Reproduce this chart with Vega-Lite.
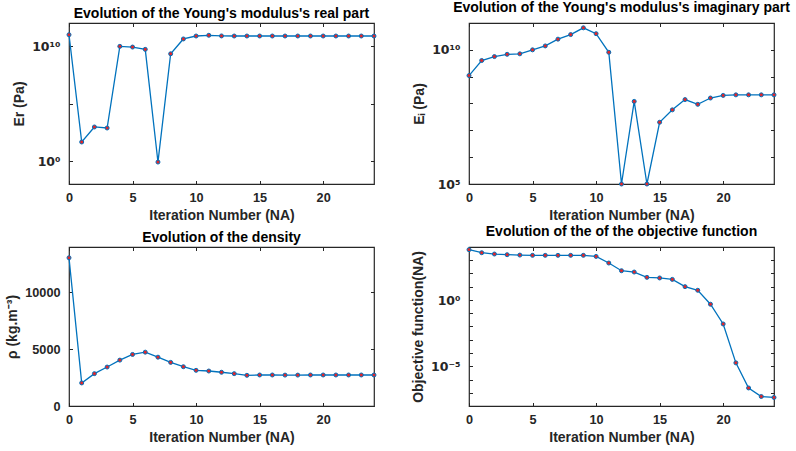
{
  "$schema": "https://vega.github.io/schema/vega-lite/v6.json",
  "background": "white",
  "padding": {"left": 5, "top": 0, "right": 0, "bottom": 0},
  "datasets": {
    "er": [
      {"iter": 0, "v": 9.5e10}, {"iter": 1, "v": 45}, {"iter": 2, "v": 910}, {"iter": 3, "v": 740},
      {"iter": 4, "v": 9.3e9}, {"iter": 5, "v": 8.1e9}, {"iter": 6, "v": 5.1e9}, {"iter": 7, "v": 0.81},
      {"iter": 8, "v": 2.1e9}, {"iter": 9, "v": 4.1e10}, {"iter": 10, "v": 7.4e10}, {"iter": 11, "v": 8.5e10},
      {"iter": 12, "v": 7.5e10}, {"iter": 13, "v": 7.4e10}, {"iter": 14, "v": 7.4e10}, {"iter": 15, "v": 7.4e10},
      {"iter": 16, "v": 7.4e10}, {"iter": 17, "v": 7.4e10}, {"iter": 18, "v": 7.4e10}, {"iter": 19, "v": 7.4e10},
      {"iter": 20, "v": 7.4e10}, {"iter": 21, "v": 7.4e10}, {"iter": 22, "v": 7.4e10}, {"iter": 23, "v": 7.4e10},
      {"iter": 24, "v": 7.4e10}
    ],
    "ei": [
      {"iter": 0, "v": 1.1e9}, {"iter": 1, "v": 4.0e9}, {"iter": 2, "v": 5.6e9}, {"iter": 3, "v": 6.8e9},
      {"iter": 4, "v": 7.1e9}, {"iter": 5, "v": 1.0e10}, {"iter": 6, "v": 1.4e10}, {"iter": 7, "v": 2.5e10},
      {"iter": 8, "v": 3.7e10}, {"iter": 9, "v": 6.6e10}, {"iter": 10, "v": 4.0e10}, {"iter": 11, "v": 8.1e9},
      {"iter": 12, "v": 1e5}, {"iter": 13, "v": 1.2e8}, {"iter": 14, "v": 1e5}, {"iter": 15, "v": 2.0e7},
      {"iter": 16, "v": 5.8e7}, {"iter": 17, "v": 1.4e8}, {"iter": 18, "v": 9.3e7}, {"iter": 19, "v": 1.6e8},
      {"iter": 20, "v": 2.0e8}, {"iter": 21, "v": 2.1e8}, {"iter": 22, "v": 2.1e8}, {"iter": 23, "v": 2.1e8},
      {"iter": 24, "v": 2.1e8}
    ],
    "rho": [
      {"iter": 0, "v": 13050}, {"iter": 1, "v": 2030}, {"iter": 2, "v": 2850}, {"iter": 3, "v": 3430},
      {"iter": 4, "v": 4040}, {"iter": 5, "v": 4540}, {"iter": 6, "v": 4740}, {"iter": 7, "v": 4300},
      {"iter": 8, "v": 3840}, {"iter": 9, "v": 3460}, {"iter": 10, "v": 3140}, {"iter": 11, "v": 3080},
      {"iter": 12, "v": 2970}, {"iter": 13, "v": 2850}, {"iter": 14, "v": 2700}, {"iter": 15, "v": 2730},
      {"iter": 16, "v": 2730}, {"iter": 17, "v": 2720}, {"iter": 18, "v": 2720}, {"iter": 19, "v": 2730},
      {"iter": 20, "v": 2730}, {"iter": 21, "v": 2730}, {"iter": 22, "v": 2730}, {"iter": 23, "v": 2730},
      {"iter": 24, "v": 2730}
    ],
    "obj": [
      {"iter": 0, "v": 6300}, {"iter": 1, "v": 3700}, {"iter": 2, "v": 2950}, {"iter": 3, "v": 2630},
      {"iter": 4, "v": 2450}, {"iter": 5, "v": 2340}, {"iter": 6, "v": 2340}, {"iter": 7, "v": 2340},
      {"iter": 8, "v": 2340}, {"iter": 9, "v": 2340}, {"iter": 10, "v": 1950}, {"iter": 11, "v": 617},
      {"iter": 12, "v": 162}, {"iter": 13, "v": 129}, {"iter": 14, "v": 51}, {"iter": 15, "v": 46},
      {"iter": 16, "v": 36}, {"iter": 17, "v": 10.2}, {"iter": 18, "v": 5.4}, {"iter": 19, "v": 0.48},
      {"iter": 20, "v": 0.0155}, {"iter": 21, "v": 1.8e-5}, {"iter": 22, "v": 2.3e-7}, {"iter": 23, "v": 5.2e-8},
      {"iter": 24, "v": 4.4e-8}
    ]
  },
  "columns": 2,
  "spacing": {"column": 31, "row": 0},
  "concat": [
    {
      "title": "Evolution of the Young's modulus's real part",
      "width": 305, "height": 161,
      "data": {"name": "er"},
      "layer": [
        {
          "mark": {"type": "line", "color": "#0072BD", "strokeWidth": 1.3},
          "encoding": {
            "x": {"field": "iter", "type": "quantitative", "scale": {"domain": [0, 24], "nice": false}, "axis": {"orient": "bottom", "title": "Iteration Number (NA)", "values": [0, 5, 10, 15, 20]}},
            "y": {"field": "v", "type": "quantitative", "scale": {"type": "log", "domain": [0.01, 1e12], "nice": false}, "axis": {"orient": "left", "title": "Er (Pa)", "values": [1, 1e5, 1e10], "labelFont": "DejaVu Sans", "labelFontSize": 12.5, "labelExpr": "datum.value == 1 ? '10⁰' : datum.value == 1e10 ? '10¹⁰' : ''"}}
          }
        },
        {
          "mark": {"type": "point", "filled": true, "fill": "#e0262b", "stroke": "#0072BD", "strokeWidth": 1, "size": 16, "opacity": 1},
          "encoding": {
            "x": {"field": "iter", "type": "quantitative", "scale": {"domain": [0, 24], "nice": false}, "axis": {"orient": "top", "title": null, "labels": false, "values": [0, 5, 10, 15, 20]}},
            "y": {"field": "v", "type": "quantitative", "scale": {"type": "log", "domain": [0.01, 1e12], "nice": false}, "axis": {"orient": "right", "title": null, "labels": false, "values": [1, 1e5, 1e10]}}
          }
        }
      ],
      "resolve": {"axis": {"x": "independent", "y": "independent"}}
    },
    {
      "title": "Evolution of the Young's modulus's imaginary part",
      "width": 305, "height": 161,
      "data": {"name": "ei"},
      "layer": [
        {
          "mark": {"type": "line", "color": "#0072BD", "strokeWidth": 1.3},
          "encoding": {
            "x": {"field": "iter", "type": "quantitative", "scale": {"domain": [0, 24], "nice": false}, "axis": {"orient": "bottom", "title": "Iteration Number (NA)", "values": [0, 5, 10, 15, 20]}},
            "y": {"field": "v", "type": "quantitative", "scale": {"type": "log", "domain": [1e5, 1e11], "nice": false}, "axis": {"orient": "left", "title": "Eᵢ (Pa)", "values": [1e5, 1e6, 1e7, 1e8, 1e9, 1e10, 1e11], "labelFont": "DejaVu Sans", "labelFontSize": 12.5, "labelExpr": "datum.value == 1e5 ? '10⁵' : datum.value == 1e10 ? '10¹⁰' : ''"}}
          }
        },
        {
          "mark": {"type": "point", "filled": true, "fill": "#e0262b", "stroke": "#0072BD", "strokeWidth": 1, "size": 16, "opacity": 1},
          "encoding": {
            "x": {"field": "iter", "type": "quantitative", "scale": {"domain": [0, 24], "nice": false}, "axis": {"orient": "top", "title": null, "labels": false, "values": [0, 5, 10, 15, 20]}},
            "y": {"field": "v", "type": "quantitative", "scale": {"type": "log", "domain": [1e5, 1e11], "nice": false}, "axis": {"orient": "right", "title": null, "labels": false, "values": [1e5, 1e6, 1e7, 1e8, 1e9, 1e10, 1e11]}}
          }
        }
      ],
      "resolve": {"axis": {"x": "independent", "y": "independent"}}
    },
    {
      "title": "Evolution of the density",
      "width": 305, "height": 159,
      "data": {"name": "rho"},
      "layer": [
        {
          "mark": {"type": "line", "color": "#0072BD", "strokeWidth": 1.3},
          "encoding": {
            "x": {"field": "iter", "type": "quantitative", "scale": {"domain": [0, 24], "nice": false}, "axis": {"orient": "bottom", "title": "Iteration Number (NA)", "values": [0, 5, 10, 15, 20]}},
            "y": {"field": "v", "type": "quantitative", "scale": {"domain": [0, 14000], "nice": false}, "axis": {"orient": "left", "title": "ρ (kg.m⁻³)", "values": [0, 5000, 10000], "format": "d"}}
          }
        },
        {
          "mark": {"type": "point", "filled": true, "fill": "#e0262b", "stroke": "#0072BD", "strokeWidth": 1, "size": 16, "opacity": 1},
          "encoding": {
            "x": {"field": "iter", "type": "quantitative", "scale": {"domain": [0, 24], "nice": false}, "axis": {"orient": "top", "title": null, "labels": false, "values": [0, 5, 10, 15, 20]}},
            "y": {"field": "v", "type": "quantitative", "scale": {"domain": [0, 14000], "nice": false}, "axis": {"orient": "right", "title": null, "labels": false, "values": [0, 5000, 10000]}}
          }
        }
      ],
      "resolve": {"axis": {"x": "independent", "y": "independent"}}
    },
    {
      "title": "Evolution of the of the objective function",
      "width": 305, "height": 159,
      "data": {"name": "obj"},
      "layer": [
        {
          "mark": {"type": "line", "color": "#0072BD", "strokeWidth": 1.3},
          "encoding": {
            "x": {"field": "iter", "type": "quantitative", "scale": {"domain": [0, 24], "nice": false}, "axis": {"orient": "bottom", "title": "Iteration Number (NA)", "values": [0, 5, 10, 15, 20]}},
            "y": {"field": "v", "type": "quantitative", "scale": {"type": "log", "domain": [1e-8, 1e4], "nice": false}, "axis": {"orient": "left", "title": "Objective function(NA)", "values": [1e-8, 1e-7, 1e-6, 1e-5, 1e-4, 1e-3, 1e-2, 1e-1, 1, 10, 100, 1000, 10000], "labelFont": "DejaVu Sans", "labelFontSize": 12.5, "labelExpr": "datum.value == 1 ? '10⁰' : abs(datum.value - 1e-5) < 1e-7 ? '10⁻⁵' : ''"}}
          }
        },
        {
          "mark": {"type": "point", "filled": true, "fill": "#e0262b", "stroke": "#0072BD", "strokeWidth": 1, "size": 16, "opacity": 1},
          "encoding": {
            "x": {"field": "iter", "type": "quantitative", "scale": {"domain": [0, 24], "nice": false}, "axis": {"orient": "top", "title": null, "labels": false, "values": [0, 5, 10, 15, 20]}},
            "y": {"field": "v", "type": "quantitative", "scale": {"type": "log", "domain": [1e-8, 1e4], "nice": false}, "axis": {"orient": "right", "title": null, "labels": false, "values": [1e-8, 1e-7, 1e-6, 1e-5, 1e-4, 1e-3, 1e-2, 1e-1, 1, 10, 100, 1000, 10000]}}
          }
        }
      ],
      "resolve": {"axis": {"x": "independent", "y": "independent"}}
    }
  ],
  "config": {
    "font": "Liberation Sans",
    "view": {"stroke": "#262626", "strokeWidth": 1.2},
    "axis": {
      "domain": false,
      "grid": false,
      "labelFont": "Liberation Sans",
      "labelFontWeight": "bold",
      "labelFontSize": 12.7,
      "labelColor": "#262626",
      "labelFlush": false,
      "labelOverlap": false,
      "titleFont": "Liberation Sans",
      "titleFontWeight": "bold",
      "titleFontSize": 14,
      "titleColor": "#262626",
      "tickColor": "#262626",
      "tickSize": 3.5,
      "tickWidth": 1,
      "offset": -3.5
    },
    "axisX": {"labelPadding": 7, "titlePadding": 5},
    "axisY": {"labelPadding": 9, "titlePadding": 5},
    "title": {"font": "Liberation Sans", "fontSize": 14, "fontWeight": "bold", "color": "#000000", "offset": 2, "anchor": "middle"}
  }
}
